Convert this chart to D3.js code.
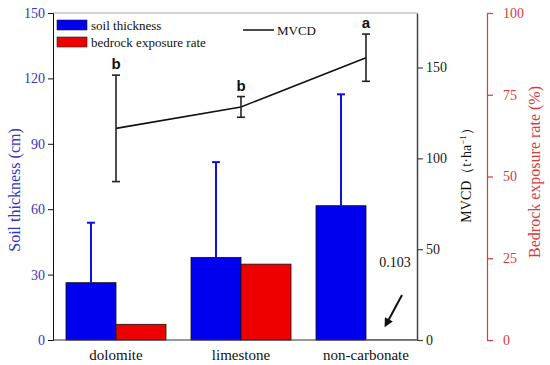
<!DOCTYPE html>
<html><head><meta charset="utf-8">
<script src="https://cdn.jsdelivr.net/npm/d3@7"></script>
<style>body{margin:0;background:#fff;} svg{display:block;}</style>
</head><body>
<svg id="c" width="550" height="365"></svg>
<script>
const categories = ["dolomite", "limestone", "non-carbonate"];
const soilThickness = [26.3, 37.9, 61.6];
const soilThicknessErr = [27.5, 43.7, 51.1];
const bedrockExposure = [4.8, 23.2, 0.103];
const mvcd = [116.5, 128.3, 155.4];
const mvcdErr = [29.3, 5.7, 13.0];
const mvcdLetters = ["b", "b", "a"];
const leftTicks = [0, 30, 60, 90, 120, 150];
const mvcdTicks = [0, 50, 100, 150];
const redTicks = [0, 25, 50, 75, 100];

const svg = d3.select("#c");
const serif = "'Liberation Serif','Times New Roman',serif";
const blueTxt = "#3535c8", redAx = "#d93a3a", darkAx = "#444";
const xL = 53, xR = 417, xRed = 487, yT = 13, yB = 340;

const x = d3.scaleBand().domain(categories).range([53.5, 428.5]).paddingInner(0.2).paddingOuter(0.1);
const sub = d3.scaleBand().domain(["s", "r"]).range([0, x.bandwidth()]);
const yL = d3.scaleLinear().domain([0, 150]).range([yB, yT]);
const yM = d3.scaleLinear().domain([0, 180]).range([yB, yT]);
const yR = d3.scaleLinear().domain([0, 100]).range([yB, yT]);

// top border
svg.append("line").attr("x1", xL).attr("x2", xR).attr("y1", yT).attr("y2", yT).attr("stroke", "#aaa").attr("stroke-width", 1);

// bars
svg.selectAll(".bs").data(categories).enter().append("rect")
  .attr("x", d => x(d) + sub("s")).attr("width", sub.bandwidth())
  .attr("y", (d, i) => yL(soilThickness[i])).attr("height", (d, i) => yB - yL(soilThickness[i]))
  .attr("fill", "#0000ee").attr("stroke", "#111").attr("stroke-width", 0.8);
svg.selectAll(".br").data(categories).enter().append("rect")
  .attr("x", d => x(d) + sub("r")).attr("width", sub.bandwidth())
  .attr("y", (d, i) => yR(bedrockExposure[i])).attr("height", (d, i) => yB - yR(bedrockExposure[i]))
  .attr("fill", "#ee0000").attr("stroke", (d, i) => bedrockExposure[i] < 1 ? "#999" : "#111").attr("stroke-width", 0.8);

// soil error bars (up only)
categories.forEach((c, i) => {
  const cx = x(c) + sub("s") + sub.bandwidth() / 2;
  const y0 = yL(soilThickness[i]), y1 = yL(soilThickness[i] + soilThicknessErr[i]);
  svg.append("line").attr("x1", cx).attr("x2", cx).attr("y1", y0).attr("y2", y1).attr("stroke", "#1010e0").attr("stroke-width", 2);
  svg.append("line").attr("x1", cx - 4).attr("x2", cx + 4).attr("y1", y1).attr("y2", y1).attr("stroke", "#1010e0").attr("stroke-width", 2);
});

// MVCD line
const mx = c => x(c) + x.bandwidth() / 2;
const line = d3.line().x((d, i) => mx(categories[i])).y(d => yM(d));
svg.append("path").datum(mvcd).attr("d", line).attr("fill", "none").attr("stroke", "#111").attr("stroke-width", 1.6);
categories.forEach((c, i) => {
  const cx = mx(c);
  const yt = yM(mvcd[i] + mvcdErr[i]), yb = yM(mvcd[i] - mvcdErr[i]);
  svg.append("line").attr("x1", cx).attr("x2", cx).attr("y1", yt).attr("y2", yb).attr("stroke", "#222").attr("stroke-width", 1.6);
  [yt, yb].forEach(yy => svg.append("line").attr("x1", cx - 4).attr("x2", cx + 4).attr("y1", yy).attr("y2", yy).attr("stroke", "#222").attr("stroke-width", 1.6));
  svg.append("text").attr("x", cx).attr("y", yt - 6).attr("text-anchor", "middle")
    .attr("font-family", "'Liberation Sans',Arial,sans-serif").attr("font-weight", "bold").attr("font-size", 15).attr("fill", "#111").text(mvcdLetters[i]);
});

// left axis
const gL = svg.append("g").attr("transform", `translate(${xL},0)`).call(d3.axisLeft(yL).tickValues(leftTicks).tickSize(5).tickPadding(3));
gL.select(".domain").attr("stroke", "#111");
gL.selectAll(".tick line").attr("stroke", "#111");
gL.selectAll("text").attr("font-family", serif).attr("font-size", 14).attr("fill", blueTxt);

// bottom axis
const gB = svg.append("g").attr("transform", `translate(0,${yB})`);
gB.append("line").attr("x1", xL).attr("x2", xR).attr("stroke", "#333").attr("stroke-width", 1);
gB.selectAll("text").data(categories).enter().append("text")
  .attr("x", d => mx(d)).attr("y", 20).attr("text-anchor", "middle")
  .attr("font-family", serif).attr("font-size", 15).attr("fill", "#111").text(d => d);

// MVCD axis
const gM = svg.append("g").attr("transform", `translate(${xR},0)`).call(d3.axisRight(yM).tickValues(mvcdTicks).tickSize(6).tickPadding(3).tickSizeOuter(0));
gM.select(".domain").attr("stroke", darkAx).attr("stroke-width", 1.5);
gM.selectAll(".tick line").attr("stroke", darkAx).attr("stroke-width", 1.2);
gM.selectAll("text").attr("font-family", serif).attr("font-size", 14).attr("fill", "#222");

// red axis
const gR = svg.append("g").attr("transform", `translate(${xRed},0)`).call(d3.axisRight(yR).tickValues(redTicks).tickSize(6).tickPadding(10).tickSizeOuter(0));
gR.select(".domain").attr("stroke", redAx).attr("stroke-width", 1.2);
gR.selectAll(".tick line").attr("stroke", redAx).attr("stroke-width", 1.2);
gR.selectAll("text").attr("font-family", serif).attr("font-size", 14).attr("fill", redAx);

// axis titles
svg.append("text").attr("transform", "translate(20,190) rotate(-90)").attr("text-anchor", "middle")
  .attr("font-family", serif).attr("font-size", 16).attr("fill", blueTxt).text("Soil thickness (cm)");
const mt = svg.append("text").attr("transform", "translate(471,172) rotate(-90)").attr("text-anchor", "middle")
  .attr("font-family", serif).attr("font-size", 14).attr("fill", "#111");
mt.append("tspan").text("MVCD（t·ha");
mt.append("tspan").attr("baseline-shift", "super").attr("font-size", 9).text("−1");
mt.append("tspan").text("）");
svg.append("text").attr("transform", "translate(540,172) rotate(-90)").attr("text-anchor", "middle")
  .attr("font-family", serif).attr("font-size", 16).attr("fill", redAx).text("Bedrock exposure rate (%)");

// legend
const leg = [["soil thickness", "#0000ee"], ["bedrock exposure rate", "#ee0000"]];
leg.forEach((l, i) => {
  svg.append("rect").attr("x", 57).attr("y", 20 + i * 17).attr("width", 30).attr("height", 10).attr("fill", l[1]).attr("stroke", "#222").attr("stroke-width", 0.6);
  svg.append("text").attr("x", 91).attr("y", 30 + i * 17).attr("font-family", serif).attr("font-size", 13).attr("fill", "#111").text(l[0]);
});
svg.append("line").attr("x1", 243).attr("x2", 274).attr("y1", 30).attr("y2", 30).attr("stroke", "#111").attr("stroke-width", 1.5);
svg.append("text").attr("x", 277).attr("y", 35).attr("font-family", serif).attr("font-size", 13).attr("fill", "#111").text("MVCD");

// annotation
svg.append("text").attr("x", 395).attr("y", 267).attr("text-anchor", "middle").attr("font-family", serif).attr("font-size", 14).attr("fill", "#111").text(String(bedrockExposure[2]));
svg.append("defs").append("marker").attr("id", "ah").attr("viewBox", "0 0 10 10").attr("refX", 2).attr("refY", 5)
  .attr("markerUnits", "userSpaceOnUse").attr("markerWidth", 11).attr("markerHeight", 9).attr("orient", "auto")
  .append("path").attr("d", "M0,0 L10,5 L0,10 z").attr("fill", "#111");
svg.append("line").attr("x1", 402).attr("y1", 295).attr("x2", 388).attr("y2", 321).attr("stroke", "#111").attr("stroke-width", 2).attr("marker-end", "url(#ah)");
</script>
</body></html>
